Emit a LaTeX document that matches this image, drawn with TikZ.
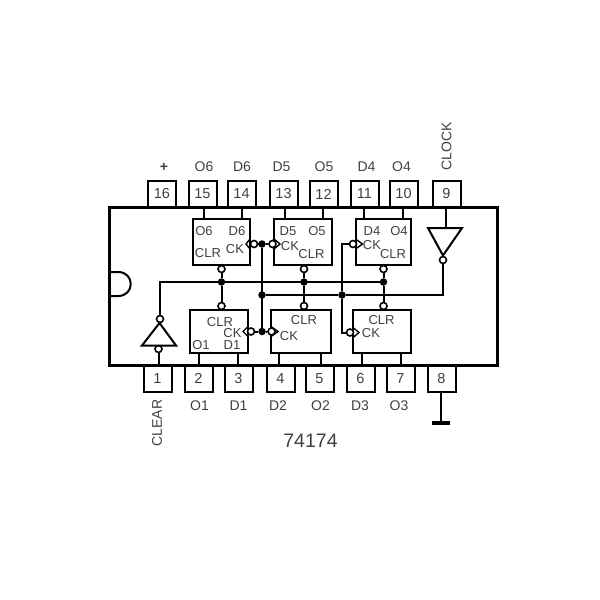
\documentclass[tikz,border=0pt]{standalone}
\usepackage{fontspec}
\setmainfont{Liberation Sans}
\usepackage{tikz}
\usetikzlibrary{calc,positioning}
\definecolor{inkgray}{HTML}{404040}
\tikzset{pinbox/.style={
    draw, line width=2pt,
    minimum width=28pt, minimum height=26pt,
    inner sep=0pt, text=inkgray,
    font=\fontsize{14.5}{16}\selectfont
  },
  chipbody/.style={draw, line width=3pt, minimum width=388pt, minimum height=158pt, inner sep=0pt},
  ffbox/.style={draw, line width=2pt, inner sep=0pt},
  pintext/.style={text=inkgray, inner sep=0pt, font=\fontsize{14}{16}\selectfont},
  fftext/.style={text=inkgray, inner sep=0pt, font=\fontsize{13}{15}\selectfont},
  wire/.style={line width=2pt},
  bubble/.style={draw, circle, fill=white, line width=1.6pt, minimum size=7pt, inner sep=0pt},
  junction/.style={fill=black, circle, minimum size=7.5pt, inner sep=0pt}
}
\begin{document}
\begin{tikzpicture}[x=1pt,y=-1pt]
    \useasboundingbox (0,0) rectangle (600,600);
    % pins
    \foreach \n/\x in {16/162,15/202.5,14/241.5,13/283.5,12/323.5,11/364.5,10/403.5,9/446.5}
        \node[pinbox] (pin\n) at (\x,194) {\n};
    \foreach \n/\x in {1/157.5,2/198.5,3/238.5,4/280.5,5/319.5,6/360.5,7/400.5,8/441.5}
        \node[pinbox] (pin\n) at (\x,378.5) {\n};
    \node[chipbody] (chip) at (303.5,286) {};
    \draw[line width=2pt] (chip.west |- 0,272) -- ++(10,0) .. controls +(17,0) and +(17,0) .. ++(0,24) -- (chip.west |- 0,296);
    % pin names
    \foreach \n/\t/\x in {p/{\textbf{+}}/164,a/O6/204,b/D6/242,c/D5/281.5,d/O5/324,e/D4/366.5,f/O4/401.5}
        \node[pintext] (top\n) at (\x,167) {\t};
    \foreach \n/\t/\x in {a/O1/199.5,b/D1/238.5,c/D2/278,d/O2/320.5,e/D3/360,f/O3/399}
        \node[pintext] (bot\n) at (\x,405.5) {\t};
    \node[pintext, rotate=90] (clock) at (446.5,146) {CLOCK};
    \node[pintext, rotate=90] (clear) at (157,423) {CLEAR};
    \node[text=inkgray, inner sep=0pt, font=\fontsize{19.5}{21}\selectfont] (title) at (310.5,441) {74174};
    % flip flops
    \foreach \n/\xa/\ya/\xb/\yb in {f6/193/219/250/265,f5/274/219/332/265,f4/355.5/219/411/265,f1/190/310/248/353,f2/271/310/331/353,f3/353/310/411/353}
        \node[ffbox, minimum width=\xb pt-\xa pt, minimum height=\yb pt-\ya pt] (\n) at ({(\xa+\xb)/2},{(\ya+\yb)/2}) {};
    \foreach \n/\t/\x/\y in {o6/O6/204/231,d6/D6/237/231,r6/CLR/208/253,c6/CK/235/249,
        d5/D5/288/231,o5/O5/317/231,c5/CK/290/246,r5/CLR/311.5/254,
        d4/D4/372/231,o4/O4/399/231,c4/CK/372/245,r4/CLR/393/254,
        r1/CLR/220/322,c1/CK/232.5/333,o1/O1/201/345,d1/D1/232/345,
        r2/CLR/304/320,c2/CK/289/336,r3/CLR/381.5/320,c3/CK/371/333}
        \node[fftext] (lab\n) at (\x,\y) {\t};
    % pin stubs
    \foreach \p/\f/\x in {15/f6/204,14/f6/241.5,13/f5/284.5,12/f5/322.5,11/f4/364,10/f4/403}
        \draw[wire] (pin\p.south -| \x,0) -- (\f.north -| \x,0);
    \foreach \p/\f/\x in {2/f1/199,3/f1/237.5,4/f2/279,5/f2/320.5,6/f3/362,7/f3/401}
        \draw[wire] (pin\p.north -| \x,0) -- (\f.south -| \x,0);
    % inverters
    \node[bubble] (invck) at (443,260) {};
    \coordinate (ckin) at (445.5,228);
    \draw[line width=2pt] (428,228) -- (462,228) -- (443,255.5) -- cycle;
    \draw[wire] (pin9.south -| ckin) -- (ckin);
    \node[bubble] (invclrout) at (160,319) {};
    \node[bubble] (invclrin) at (158.5,349) {};
    \draw[line width=2pt] (142,345.5) -- (176,345.5) -- (159.5,323) -- cycle;
    \draw[wire] (pin1.north -| invclrin) -- (invclrin);
    % buses
    \foreach \n/\x in {a/221.5,b/304,c/383.5}{
        \node[junction] (clr\n) at (\x,282) {};
    }
    \node[junction] (cka) at (262,295) {};
    \node[junction] (ckb) at (342,295) {};
    \node[junction] (ckc) at (262,244) {};
    \node[junction] (ckd) at (262,331.5) {};
    \draw[wire] (invclrout) |- (clrc);
    \draw[wire] (cka) -- (ckb) -| (invck);
    \draw[wire] (ckc) -- (ckd);
    % clear bubbles
    \foreach \n/\j/\x in {r6/clra/221.5,r5/clrb/304,r4/clrc/383.5}{
        \node[bubble] (b\n) at (\x,269) {};
        \draw[wire] (b\n) -- (\j);
    }
    \foreach \n/\j/\x in {r1/clra/221.5,r2/clrb/304,r3/clrc/383.5}{
        \node[bubble] (b\n) at (\x,306) {};
        \draw[wire] (b\n) -- (\j);
    }
    % clock bubbles
    \foreach \n/\x/\y in {6/254/244,5/272.5/244,4/353/244,1/251/331.5,2/271.5/331.5,3/350/332.5}
        \node[bubble] (bc\n) at (\x,\y) {};
    \foreach \n/\x/\y/\s in {6/250/244/-4,5/274/244/6,4/355.5/244/7,1/248/331.5/-5,2/271/331.5/7,3/353/332.5/6}
        \draw[line width=1.4pt] (\x,\y) +(0,-5) -- +(\s,0) -- +(0,5);
    \draw[wire] (ckc) -- (bc6);
    \draw[wire] (ckc) -- (bc5);
    \draw[wire] (ckd) -- (bc1);
    \draw[wire] (ckd) -- (bc2);
    \draw[wire] (bc4) -| (ckb);
    \draw[wire] (bc3) -| (ckb);
    % ground
    \coordinate (gnd) at (441,423);
    \draw[wire] (pin8.south -| gnd) -- (gnd);
    \draw[line width=4.5pt] (432,423) -- (450,423);
\end{tikzpicture}
\end{document}
